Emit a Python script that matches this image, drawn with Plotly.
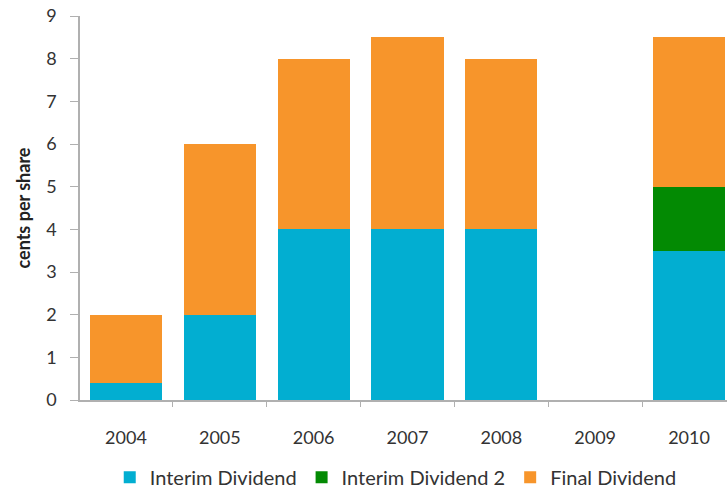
import plotly.graph_objects as go

years = ["2004", "2005", "2006", "2007", "2008", "2009", "2010"]
interim = [0.4, 2, 4, 4, 4, 0, 3.5]
interim2 = [0, 0, 0, 0, 0, 0, 1.5]
final = [1.6, 4, 4, 4.5, 4, 0, 3.5]

names = ["Interim Dividend", "Interim Dividend 2", "Final Dividend"]
colors = ["#02aed1", "#038a03", "#f7952b"]

fig = go.Figure()
for name, vals, col in zip(names, [interim, interim2, final], colors):
    fig.add_trace(go.Bar(x=years, y=vals, name=name, marker=dict(color=col, line=dict(width=0))))

font = "Lato, Open Sans, sans-serif"
fig.update_layout(
    width=727, height=493,
    margin=dict(l=80, r=0, t=16, b=93, autoexpand=False),
    barmode="stack", bargap=0.23,
    plot_bgcolor="white", paper_bgcolor="white",
    font=dict(family=font, size=18, color="#333333"),
    xaxis=dict(type="category", range=[-0.49, 6.405], tickson="boundaries",
               ticks="outside", ticklen=5, tickcolor="#b0b0b0",
               showline=True, linecolor="#b0b0b0", linewidth=1.5,
               ticklabelstandoff=21, showgrid=False,
               tickfont=dict(size=18, color="#333333")),
    yaxis=dict(range=[0, 9], dtick=1, ticks="outside", ticklen=8, tickcolor="#b0b0b0",
               showline=True, linecolor="#b0b0b0", linewidth=1.5, showgrid=False,
               zeroline=False, ticklabelstandoff=10,
               tickfont=dict(size=18, color="#333333"),
               title=dict(text="<b>cents per share</b>", font=dict(size=18, color="#222222"), standoff=11)),
    legend=dict(orientation="h", x=0.488, xanchor="center", yref="container", y=0.032, yanchor="middle",
                traceorder="normal", font=dict(size=20, color="#333333"),
                itemwidth=30),
    showlegend=True,
)
fig.write_html("out.html")
